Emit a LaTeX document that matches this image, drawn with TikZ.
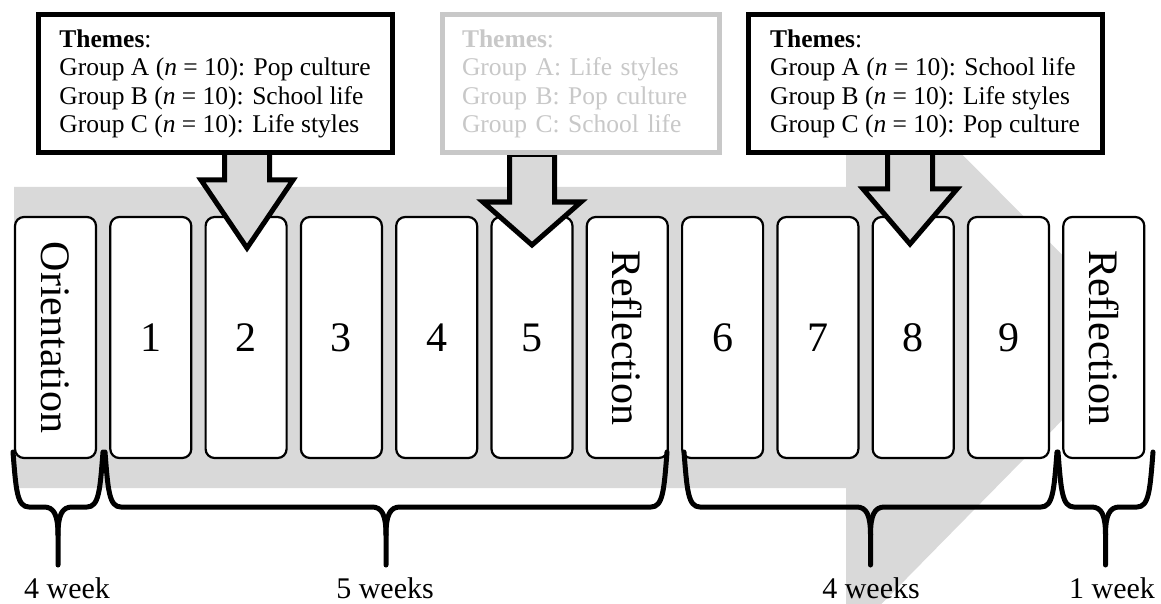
\documentclass[tikz,border=0pt]{standalone}
\usepackage{fontspec}
\setmainfont{Liberation Serif}
\definecolor{bandgray}{HTML}{D9D9D9}
\definecolor{fadegray}{HTML}{C8C8C8}

\begin{document}
\begin{tikzpicture}[x=1pt,y=-1pt,
    session/.style={draw,line width=2.2pt,rounded corners=9pt,fill=white,
      minimum width=81pt,minimum height=241pt,inner sep=0pt,
      font=\fontsize{42}{42}\selectfont},
    themebox/.style={draw,line width=5pt,fill=white,anchor=north west,
      align=left,inner xsep=20pt,inner ysep=0pt,minimum height=138pt,
      font=\fontsize{25.5}{28.3}\selectfont},
    downarrow/.style={draw,line width=5pt,fill=bandgray,line join=miter},
    weekbrace/.style={line width=5pt,line cap=round,line join=round},
    weeklabel/.style={anchor=base,font=\fontsize{30}{30}\selectfont}]
  \useasboundingbox (0,0) rectangle (1161,604);
  \clip (0,0) rectangle (1161,604);
  %\draw[very thin,lightgray,step=50] (0,0) grid (1161,604);
  % big timeline arrow
  \fill[bandgray] (14,187) -- (846,187) -- (846,38) -- (1144,337)
    -- (846,640) -- (846,488) -- (14,488) -- cycle;
  % sessions
  \foreach \i/\lbl/\rot in {0/Orientation/-90,1/1/0,2/2/0,3/3/0,4/4/0,5/5/0,
      6/Reflection/-90,7/6/0,8/7/0,9/8/0,10/9/0,11/Reflection/-90}
    \node[session] (s\i) at (55.5+95.3*\i,337.5) {\rotatebox{\rot}{\lbl}};
  % theme arrows
  \draw[downarrow] (224.5,140) -- (224.5,180) -- (201,180) -- (247,248)
    -- (293,180) -- (269.5,180) -- (269.5,140);
  \draw[downarrow] (509.5,154.5) -- (509.5,202) -- (483,202) -- (532,245)
    -- (581,202) -- (554.5,202) -- (554.5,154.5) -- cycle;
  \draw[downarrow] (887.5,140) -- (887.5,189) -- (863,189) -- (910,244)
    -- (957,189) -- (932.5,189) -- (932.5,140);
  % themes
  \node[themebox,minimum width=354pt] (themesA) at (35.5,12.5)
    {\textbf{Themes}:\\ Group A (\textit{n} = 10): Pop culture\\
     Group B (\textit{n} = 10): School life\\ Group C (\textit{n} = 10): Life styles};
  \node[themebox,text width=237pt,draw=fadegray,text=fadegray] (themesB) at (439.5,12.5)
    {\textbf{Themes}:\\ Group A: Life styles\\ Group B: Pop culture\\ Group C: School life};
  \node[themebox,minimum width=354pt] (themesC) at (745.5,12.5)
    {\textbf{Themes}:\\ Group A (\textit{n} = 10): School life\\
     Group B (\textit{n} = 10): Life styles\\ Group C (\textit{n} = 10): Pop culture};
  % weeks
  \foreach \a/\b in {13/103,105/667,684/1057,1058/1153} {
    \pgfmathsetmacro\m{(\a+\b)/2}
    \draw[weekbrace] (\a,452) .. controls (\a+3,490) and (\a+4,507) .. (\a+16,507)
      -- (\m-14,507) .. controls (\m-4,507) and (\m,515) .. (\m,535) -- (\m,565);
    \draw[weekbrace] (\b,452) .. controls (\b-3,490) and (\b-4,507) .. (\b-16,507)
      -- (\m+14,507) .. controls (\m+4,507) and (\m,515) .. (\m,535);
  }
  \node[weeklabel] (wk1) at (67,598) {4 week};
  \node[weeklabel] (wk2) at (385,598) {5 weeks};
  \node[weeklabel] (wk3) at (871,598) {4 weeks};
  \node[weeklabel] (wk4) at (1112,598) {1 week};
\end{tikzpicture}
\end{document}
